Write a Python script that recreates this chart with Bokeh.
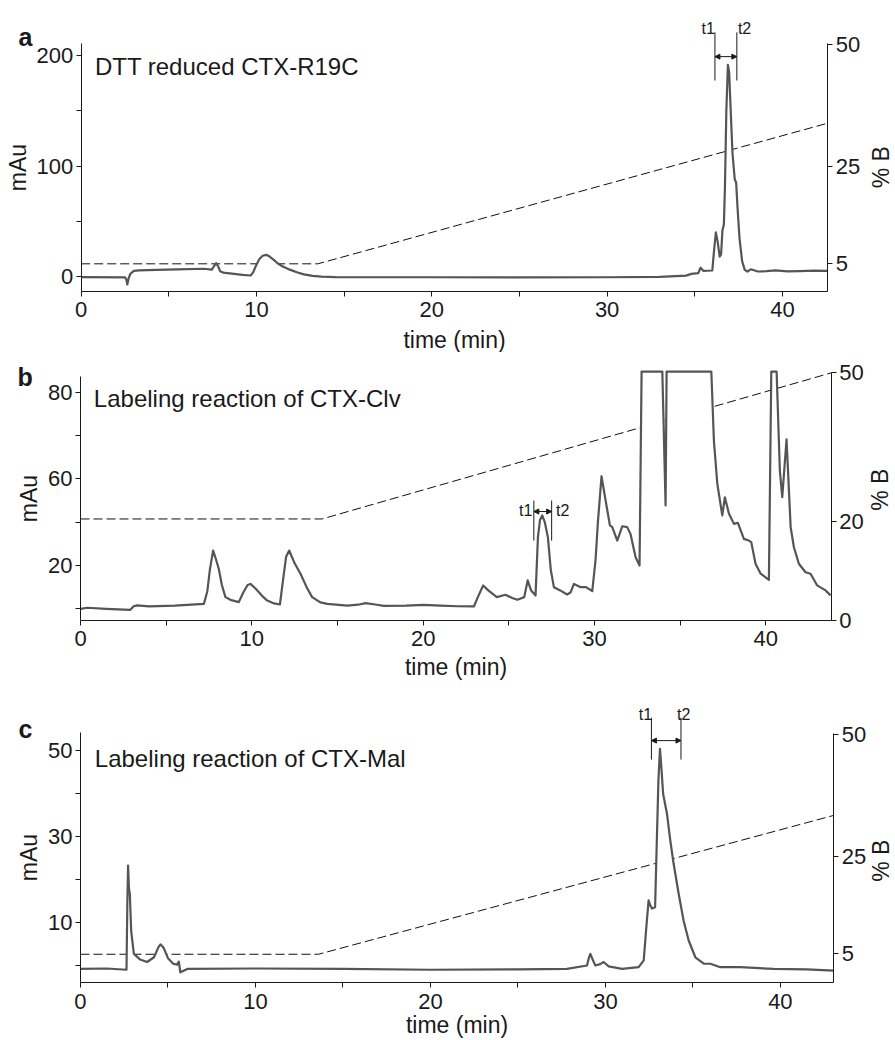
from math import pi

from bokeh.embed import file_html
from bokeh.layouts import column
from bokeh.models import Arrow, FixedTicker, Label, LinearAxis, NormalHead, Range1d
from bokeh.plotting import figure
from bokeh.resources import INLINE

FONT = "Liberation Sans"
INK = "#1a1a1a"
TRACE = "#555555"

# ---------------------------------------------------------------- data
x_major = [0, 10, 20, 30, 40]
x_minor = [5, 15, 25, 35]

# (a) DTT reduced CTX-R19C
time_a = [0, 2.5, 2.58, 2.63, 2.7, 2.8, 3.0, 3.3, 4.3, 5.5, 7.0, 7.45, 7.58, 7.7,
          7.82, 7.92, 8.1, 8.6, 9.2, 9.66, 9.8, 9.95, 10.15, 10.35, 10.55, 10.75,
          11.0, 11.2, 11.5, 11.9, 12.3, 12.7, 13.2, 13.7, 14.5, 20, 25, 30, 33,
          34.5, 34.8, 35.2, 35.33, 35.5, 35.7, 36.0, 36.08, 36.2, 36.3, 36.42,
          36.5, 36.58, 36.66, 36.72, 36.8, 36.89, 36.96, 37.05, 37.15, 37.28,
          37.36, 37.44, 37.55, 37.7, 37.85, 38.0, 38.2, 38.6, 39.1, 39.6, 40.3,
          41.0, 41.8, 42.59]
mau_a = [-0.6, -0.8, -3.0, -7.2, -2.0, 2.4, 5.0, 5.6, 6.0, 6.4, 7.0, 6.2, 9.5, 12.0,
         9.0, 4.8, 3.5, 2.6, 1.5, 0.9, 3.5, 9.0, 15.5, 18.8, 19.6, 18.0,
         14.8, 12.0, 9.0, 6.2, 3.8, 1.9, 0.5, -0.1, -0.6, -0.7, -0.8, -0.7, -0.4,
         0.8, 2.4, 3.0, 7.9, 5.0, 5.2, 5.4, 20.0, 40.0, 32.0, 18.0,
         20.0, 42.0, 47.0, 80.0, 150.0, 191.5, 185.0, 150.0, 112.0, 88.0,
         85.0, 62.0, 35.0, 14.0, 6.0, 4.5, 6.5, 4.5, 4.8, 5.5, 4.6,
         4.8, 5.3, 5.0]
grad_time_a = [0, 13.5, 42.59]
grad_b_a = [5, 5, 33.9]
cut_a = (36.15, 37.40)

# (b) Labeling reaction of CTX-Clv (detector saturates at the top)
time_b = [0, 0.4, 1.5, 2.9, 3.1, 3.3, 4.0, 5.5, 7.2, 7.4, 7.55, 7.74, 7.9, 8.07,
          8.25, 8.46, 8.8, 9.24, 9.5, 9.75, 9.92, 10.2, 10.6, 10.9, 11.3, 11.64,
          11.8, 12.0, 12.18, 12.5, 12.84, 13.2, 13.52, 14.0, 14.4, 15.57, 16.2,
          16.64, 17.2, 17.7, 19.0, 20.04, 21.0, 22.0, 22.96, 23.2, 23.5, 23.8,
          24.3, 24.8, 25.2, 25.5, 25.9, 26.1, 26.3, 26.56, 26.7, 26.82, 26.95,
          27.1, 27.28, 27.45, 27.63, 28.0, 28.4, 28.6, 28.8, 29.2, 29.5, 29.87,
          30.06, 30.2, 30.41, 30.65, 30.9, 31.04, 31.33, 31.62, 31.91, 32.1,
          32.4, 32.63, 32.75, 33.96, 34.15, 34.21, 36.82, 36.97, 37.17, 37.46,
          37.61, 37.85, 38.14, 38.37, 38.72, 39.01, 39.15, 39.4, 39.7, 40.18,
          40.32, 40.63, 40.82, 40.96, 41.21, 41.45, 41.64, 41.93, 42.32, 42.61,
          43.0, 43.49, 43.78]
mau_b = [0.0, 0.5, 0.0, -0.5, 1.2, 1.6, 1.1, 1.5, 2.3, 8.0, 18.0, 26.9, 23.0, 18.5,
         11.0, 5.4, 4.0, 3.1, 7.5, 11.0, 11.5, 9.5, 6.0, 3.8, 2.5, 2.0,
         12.0, 24.0, 26.9, 21.0, 16.2, 10.0, 5.4, 3.0, 2.3, 1.5, 1.9,
         2.6, 2.0, 1.4, 1.5, 1.85, 1.5, 1.2, 1.1, 5.5, 10.8, 8.5,
         5.4, 6.5, 5.0, 4.2, 5.4, 13.1, 8.5, 6.2, 33.1, 41.0, 43.1,
         40.0, 33.1, 18.0, 10.0, 8.5, 6.6, 7.5, 11.5, 10.0, 10.0, 8.2,
         22.3, 40.0, 61.2, 50.0, 38.5, 37.7, 31.5, 38.1, 37.7, 34.6,
         23.8, 20.0, 109.5, 109.5, 47.7, 109.5, 109.5, 77.7, 57.7, 43.1,
         51.5, 43.9, 39.2, 39.7, 32.3, 31.5, 30.8, 20.8, 16.2, 13.4,
         109.5, 109.5, 63.8, 51.5, 78.2, 37.7, 28.4, 20.8, 16.9, 16.2,
         10.8, 8.5, 6.2]
grad_time_b = [0, 14.1, 43.82]
grad_b_b = [20.5, 20.5, 50]
cut_b = (26.46, 27.50)

# (c) Labeling reaction of CTX-Mal
time_c = [0, 1.5, 2.63, 2.68, 2.72, 2.77, 2.82, 2.9, 3.05, 3.4, 3.81, 4.2, 4.45,
          4.57, 4.75, 5.0, 5.3, 5.52, 5.62, 5.71, 6.1, 10, 15, 20, 25, 27.8,
          28.95, 29.05, 29.14, 29.3, 29.43, 29.7, 29.9, 30.19, 30.95, 31.9,
          32.19, 32.34, 32.47, 32.57, 32.67, 32.84, 32.95, 33.03, 33.12, 33.2,
          33.3, 33.52, 33.71, 33.9, 34.19, 34.47, 34.76, 35.14, 35.62, 36.0,
          36.57, 37.71, 39.6, 41.5, 43.05]
mau_c = [-0.7, -0.6, -0.9, 15.0, 23.3, 18.0, 16.7, 8.0, 2.8, 1.5, 0.9, 2.0, 4.3,
         5.0, 4.2, 1.8, 0.5, 0.3, 1.0, -1.5, -0.7, -0.6, -0.7, -0.9, -0.8, -0.7,
         0.1, 1.8, 2.8, 1.2, 0.1, 0.4, 0.9, -0.1, -0.7, -0.3,
         1.3, 9.0, 15.2, 14.0, 13.3, 13.6, 30.7, 43.0, 50.4, 46.0,
         39.9, 35.3, 29.1, 23.7, 16.7, 10.5, 5.9, 2.0, 0.5, 0.5,
         -0.3, -0.3, -0.7, -0.8, -1.1]
grad_time_c = [0, 13.6, 43.05]
grad_b_c = [4.9, 4.9, 33.4]
cut_c = (32.63, 34.32)


def style_axis(ax, label_gap=3, title_gap=3):
    ax.axis_line_color = INK
    ax.major_tick_line_color = INK
    ax.minor_tick_line_color = INK
    ax.major_tick_in = 0
    ax.major_tick_out = 5
    ax.minor_tick_in = 0
    ax.minor_tick_out = 5
    ax.major_label_text_font = FONT
    ax.major_label_text_font_size = "22px"
    ax.major_label_text_color = INK
    ax.major_label_standoff = label_gap
    ax.axis_label_text_font = FONT
    ax.axis_label_text_font_size = "23px"
    ax.axis_label_text_font_style = "normal"
    ax.axis_label_text_color = INK
    ax.axis_label_standoff = title_gap


def text(p, x, y, s, size, bold=False, align="left", rng="default", angle=0.0,
         baseline="alphabetic"):
    p.add_layout(Label(x=x, y=y, text=s, text_font=FONT, text_font_size=size,
                       text_font_style="bold" if bold else "normal",
                       text_color=INK, text_align=align, text_baseline=baseline,
                       y_range_name=rng, angle=angle))


def panel(cfg):
    x_end = cfg["x_end"]
    y_base = cfg["x_axis_at"]
    # the frame fills the whole canvas; every axis is pinned to a data location
    p = figure(width=895, height=cfg["height"], output_backend="svg",
               toolbar_location=None,
               x_range=Range1d(*cfg["x_lim"]), y_range=Range1d(*cfg["y_lim"]),
               min_border=0)
    p.outline_line_color = None
    p.xgrid.visible = False
    p.ygrid.visible = False
    p.extra_y_ranges = {"pctB": Range1d(*cfg["b_lim"])}

    xa = p.xaxis[0]
    style_axis(xa, label_gap=cfg["x_gaps"][0], title_gap=cfg["x_gaps"][1])
    xa.ticker = FixedTicker(ticks=x_major, minor_ticks=x_minor)
    xa.bounds = (0, x_end)
    xa.fixed_location = y_base
    xa.axis_label = "time (min)"

    ya = p.yaxis[0]
    style_axis(ya)
    ya.ticker = FixedTicker(ticks=cfg["y_ticks"], minor_ticks=cfg["y_minor"])
    ya.bounds = (y_base, cfg["y_axis_top"])
    ya.fixed_location = 0
    ya.axis_label = "mAu"
    if cfg.get("y_labels"):
        ya.major_label_overrides = cfg["y_labels"]

    ra = LinearAxis(y_range_name="pctB",
                    ticker=FixedTicker(ticks=cfg["b_ticks"], minor_ticks=[]),
                    bounds=cfg["b_bounds"], fixed_location=x_end)
    style_axis(ra)
    p.add_layout(ra, "right")

    # gradient of solvent B, then the chromatogram on an opaque white body
    p.line(cfg["gt"], cfg["gb"], y_range_name="pctB", line_color="#111111",
           line_width=1, line_dash="9 4")
    p.varea(x=cfg["t"], y1=[y_base] * len(cfg["t"]), y2=cfg["y"], fill_color="white")
    p.line(cfg["t"], cfg["y"], line_color=TRACE, line_width=2.2, line_join="round")

    # collected fraction t1 -> t2
    t1, t2 = cfg["cut"]
    lo, hi, ay, ly = cfg["cut_y"]
    p.segment(x0=[t1, t2], y0=[lo, lo], x1=[t1, t2], y1=[hi, hi],
              line_color=INK, line_width=1)
    p.add_layout(Arrow(x_start=t1, y_start=ay, x_end=t2, y_end=ay, line_width=1,
                       line_color=INK,
                       start=NormalHead(size=5, fill_color=INK, line_color=INK),
                       end=NormalHead(size=5, fill_color=INK, line_color=INK)))
    lx1, lx2 = cfg["cut_lx"]
    text(p, lx1, ly, "t1", "16px", align="center")
    text(p, lx2, ly, "t2", "16px", align="center")

    lx, lyy = cfg["letter_at"]
    text(p, lx, lyy, cfg["letter"], "25px", bold=True)
    tx, tyy = cfg["title_at"]
    text(p, tx, tyy, cfg["title"], "24px")
    bx, byy = cfg["pctb_at"]
    text(p, bx, byy, "% B", "23px", align="center", rng="pctB", angle=pi / 2,
         baseline="middle")
    return p


pa = panel(dict(
    letter="a", title="DTT reduced CTX-R19C", t=time_a, y=mau_a,
    gt=grad_time_a, gb=grad_b_a, cut=cut_a, cut_y=(177.4, 221.0, 199.0, 224.2),
    cut_lx=(35.77, 37.84), height=352, x_gaps=(6, 6),
    x_end=42.59, x_lim=(-4.604, 46.45), y_lim=(-68.8, 249.8),
    x_axis_at=-13.57, y_axis_top=210.8,
    y_ticks=[0, 100, 200], y_minor=[50, 150],
    b_lim=(-13.22, 59.10), b_bounds=(-0.69, 50.27), b_ticks=[5, 25, 50],
    letter_at=(-3.58, 217.2), title_at=(0.78, 190.3), pctb_at=(45.60, 24.85)))

pb = panel(dict(
    letter="b", title="Labeling reaction of CTX-Clv", t=time_b, y=mau_b,
    gt=grad_time_b, gb=grad_b_b, cut=cut_b, cut_y=(31.5, 50.0, 44.9, 45.4),
    cut_lx=(25.98, 28.14), height=329, x_gaps=(6, 4),
    x_end=43.82, x_lim=(-4.670, 47.57), y_lim=(-33.54, 118.3),
    x_axis_at=-5.38, y_axis_top=107.2,
    y_ticks=[20, 60, 100], y_minor=[0, 40, 80], y_labels={100: "80"},
    b_lim=(-12.32, 54.11), b_bounds=(0.0, 50.0), b_ticks=[0, 20, 50],
    letter_at=(-3.68, 106.8), title_at=(0.78, 96.9), pctb_at=(46.64, 26.4)))

pc = panel(dict(
    letter="c", title="Labeling reaction of CTX-Mal", t=time_c, y=mau_c,
    gt=grad_time_c, gb=grad_b_c, cut=cut_c, cut_y=(47.9, 57.6, 52.3, 58.4),
    cut_lx=(32.29, 34.47), height=359, x_gaps=(6, 0),
    x_end=43.05, x_lim=(-4.571, 46.58), y_lim=(-17.32, 66.02),
    x_axis_at=-3.92, y_axis_top=54.2,
    y_ticks=[10, 30, 50], y_minor=[0, 20, 40],
    b_lim=(-12.80, 60.88), b_bounds=(-0.95, 50.3), b_ticks=[5, 25, 50],
    letter_at=(-3.54, 55.1), title_at=(0.82, 48.1), pctb_at=(45.77, 24.1)))

layout = column(pa, pb, pc)
open("out.html", "w").write(file_html(layout, INLINE))
